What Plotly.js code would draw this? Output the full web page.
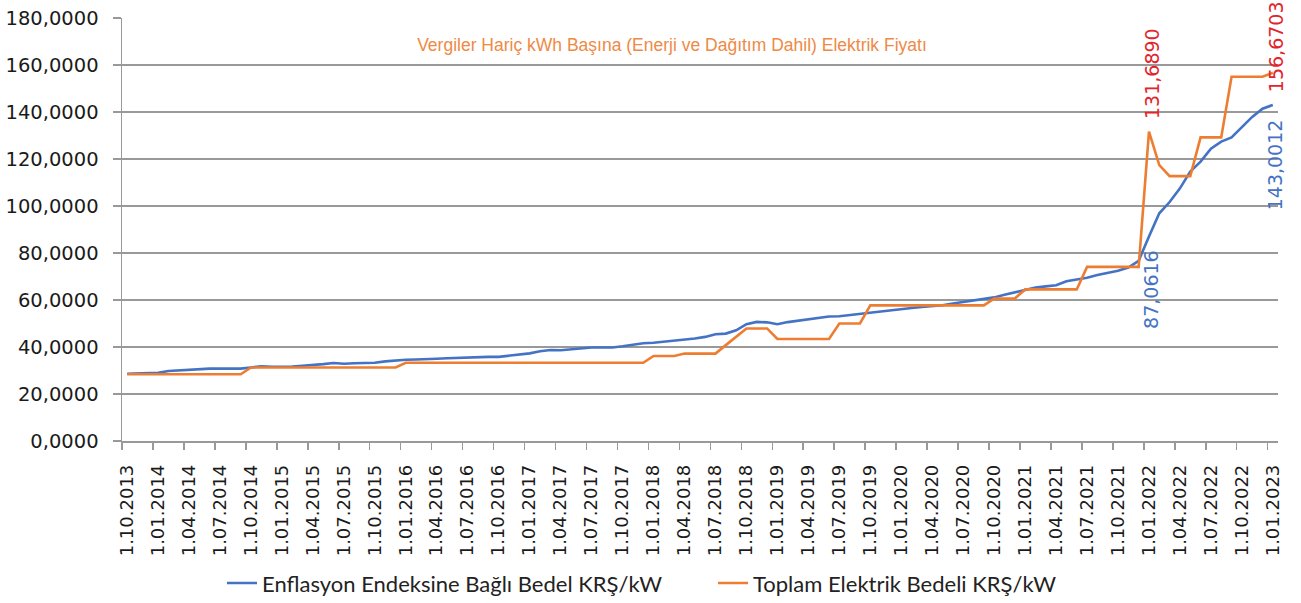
<!DOCTYPE html>
<html>
<head>
<meta charset="utf-8">
<script src="https://cdn.plot.ly/plotly-3.0.1.min.js"></script>
<style>html,body{margin:0;padding:0;background:#fff}#chart{width:1301px;height:603px}</style>
</head>
<body>
<div id="chart"></div>
<script>
// Monthly series, 1.10.2013 ... 1.01.2023 (112 months)
const enflasyonBedel = [
  28.6, 28.7, 28.8, 29.0, 29.8, 30.1, 30.4, 30.6, 30.8, 30.8, 30.8, 30.8,
  31.3, 31.8, 31.6, 31.5, 31.7, 32.0, 32.2, 32.7, 33.2, 32.9, 33.1, 33.3,
  33.3, 33.9, 34.3, 34.6, 34.7, 34.7, 35.0, 35.2, 35.4, 35.6, 35.8, 35.8,
  35.8, 36.2, 36.7, 37.3, 38.2, 38.7, 38.6, 39.1, 39.6, 39.8, 39.8, 39.8,
  40.3, 41.0, 41.6, 41.8, 42.2, 42.8, 43.2, 43.6, 44.3, 45.4, 45.7, 47.1,
  49.7, 50.7, 50.5, 49.7, 50.6, 51.2, 51.5, 52.4, 53.0, 53.1, 53.6, 54.3,
  54.9, 55.4, 55.8, 56.2, 56.6, 57.0, 57.3, 57.8, 58.5, 59.1, 59.7, 60.4,
  61.1, 62.2, 63.3, 64.3, 65.3, 65.8, 66.3, 68.0, 68.7, 69.5, 70.6, 71.5,
  72.4, 73.8, 76.7, 87.0616, 96.9, 101.7, 107.5, 114.6, 118.9, 124.4, 127.4, 129.2,
  133.5, 137.9, 141.4, 143.0012
];
const toplamBedel = [
  28.4, 28.4, 28.4, 28.4, 28.4, 28.4, 28.4, 28.4, 28.4, 28.4, 28.4, 28.4,
  31.3, 31.3, 31.3, 31.3, 31.3, 31.3, 31.3, 31.3, 31.3, 31.3, 31.3, 31.3,
  31.3, 31.3, 31.3, 33.3, 33.3, 33.3, 33.3, 33.3, 33.3, 33.3, 33.3, 33.3,
  33.3, 33.3, 33.3, 33.3, 33.3, 33.3, 33.3, 33.3, 33.3, 33.3, 33.3, 33.3,
  33.3, 33.3, 33.3, 36.2, 36.2, 36.2, 37.2, 37.2, 37.2, 37.2, 40.8, 44.3,
  47.9, 47.9, 47.9, 43.4, 43.4, 43.4, 43.4, 43.4, 43.4, 50.0, 50.0, 50.0,
  57.7, 57.7, 57.7, 57.7, 57.7, 57.7, 57.7, 57.7, 57.7, 57.7, 57.7, 57.7,
  60.6, 60.6, 60.6, 64.5, 64.5, 64.5, 64.5, 64.5, 64.5, 74.1, 74.1, 74.1,
  74.1, 74.1, 74.1, 131.689, 117.4, 112.7, 112.7, 112.7, 129.2, 129.2, 129.2, 155.0,
  155.0, 155.0, 155.0, 156.6703
];
const tickLabels = [
  '1.10.2013',
  '1.01.2014','1.04.2014','1.07.2014','1.10.2014',
  '1.01.2015','1.04.2015','1.07.2015','1.10.2015',
  '1.01.2016','1.04.2016','1.07.2016','1.10.2016',
  '1.01.2017','1.04.2017','1.07.2017','1.10.2017',
  '1.01.2018','1.04.2018','1.07.2018','1.10.2018',
  '1.01.2019','1.04.2019','1.07.2019','1.10.2019',
  '1.01.2020','1.04.2020','1.07.2020','1.10.2020',
  '1.01.2021','1.04.2021','1.07.2021','1.10.2021',
  '1.01.2022','1.04.2022','1.07.2022','1.10.2022',
  '1.01.2023'
];
const seriesNames = ['Enflasyon Endeksine Bağlı Bedel KRŞ/kW', 'Toplam Elektrik Bedeli KRŞ/kW'];
const chartTitle = 'Vergiler Hariç kWh Başına (Enerji ve Dağıtım Dahil) Elektrik Fiyatı';
const labelledIdx = [99, 111];

const idx = enflasyonBedel.map((_, i) => i);
const tickPos = tickLabels.map((_, k) => k * 3 - 0.5);
const fmt = v => v.toFixed(4).replace('.', ',');

const BLUE = '#4472c4', ORANGE = '#ed7d31', RED = '#e3242b';
const GRID = '#999999';
const AXFONT = {family: 'DejaVu Sans', size: 19.5, color: '#1a1a1a'};

const traces = [
  {x: idx, y: enflasyonBedel, type: 'scatter', mode: 'lines', name: seriesNames[0],
   line: {color: BLUE, width: 2.6}},
  {x: idx, y: toplamBedel, type: 'scatter', mode: 'lines', name: seriesNames[1],
   line: {color: ORANGE, width: 2.6}}
];

const annotations = [];
annotations.push({x: labelledIdx[0], y: toplamBedel[labelledIdx[0]], text: fmt(toplamBedel[labelledIdx[0]]),
  textangle: -90, showarrow: false, xanchor: 'center', yanchor: 'bottom', yshift: 11, xshift: 3,
  font: {family: 'DejaVu Sans', size: 19, color: RED}});
annotations.push({x: labelledIdx[0], y: enflasyonBedel[labelledIdx[0]], text: fmt(enflasyonBedel[labelledIdx[0]]),
  textangle: -90, showarrow: false, xanchor: 'center', yanchor: 'top', yshift: -11, xshift: 2,
  font: {family: 'DejaVu Sans', size: 19, color: BLUE}});
annotations.push({x: labelledIdx[1], y: toplamBedel[labelledIdx[1]], text: fmt(toplamBedel[labelledIdx[1]]),
  textangle: -90, showarrow: false, xanchor: 'center', yanchor: 'bottom', yshift: -21, xshift: 3,
  font: {family: 'DejaVu Sans', size: 19, color: RED}});
annotations.push({x: labelledIdx[1], y: enflasyonBedel[labelledIdx[1]], text: fmt(enflasyonBedel[labelledIdx[1]]),
  textangle: -90, showarrow: false, xanchor: 'center', yanchor: 'top', yshift: -12, xshift: 3,
  font: {family: 'DejaVu Sans', size: 19, color: BLUE}});

const layout = {
  width: 1301, height: 603,
  margin: {l: 122, r: 23, t: 18, b: 162, pad: 0, autoexpand: false},
  paper_bgcolor: '#ffffff', plot_bgcolor: '#ffffff',
  separators: ',.',
  showlegend: true,
  title: {text: chartTitle, x: 0.5165, xanchor: 'center', y: 0.925, yanchor: 'middle',
          font: {family: 'Liberation Sans', size: 17.5, color: '#ee8a45'}},
  xaxis: {
    range: [-0.5, idx.length - 0.5],
    tickmode: 'array', tickvals: tickPos, ticktext: tickLabels,
    tickangle: -90, ticklabelshift: 5, ticklabelstandoff: 8,
    ticks: 'outside', ticklen: 7, tickcolor: GRID, tickwidth: 1.5,
    showline: true, linecolor: GRID, linewidth: 1.5,
    showgrid: false, zeroline: false, automargin: false,
    tickfont: {family: 'DejaVu Sans', size: 18, color: '#1a1a1a'},
    fixedrange: true
  },
  yaxis: {
    range: [0, 180], tickmode: 'linear', tick0: 0, dtick: 20,
    tickformat: '.4f',
    ticks: 'outside', ticklen: 8, tickcolor: GRID, tickwidth: 1.5,
    ticklabelstandoff: 10,
    showline: true, linecolor: GRID, linewidth: 1.5,
    showgrid: true, gridcolor: GRID, gridwidth: 1.5,
    zeroline: false, automargin: false,
    tickfont: AXFONT,
    fixedrange: true
  },
  legend: {orientation: 'h', x: (222 - 122) / 1156, xanchor: 'left', y: -0.336, yanchor: 'middle',
           font: {family: 'Lato', size: 22, color: '#222'}, itemwidth: 30,
           entrywidth: 446, entrywidthmode: 'pixels',
           bgcolor: 'rgba(0,0,0,0)'},
  annotations: annotations
};

Plotly.newPlot('chart', traces, layout, {displayModeBar: false, staticPlot: true});
</script>
</body>
</html>
